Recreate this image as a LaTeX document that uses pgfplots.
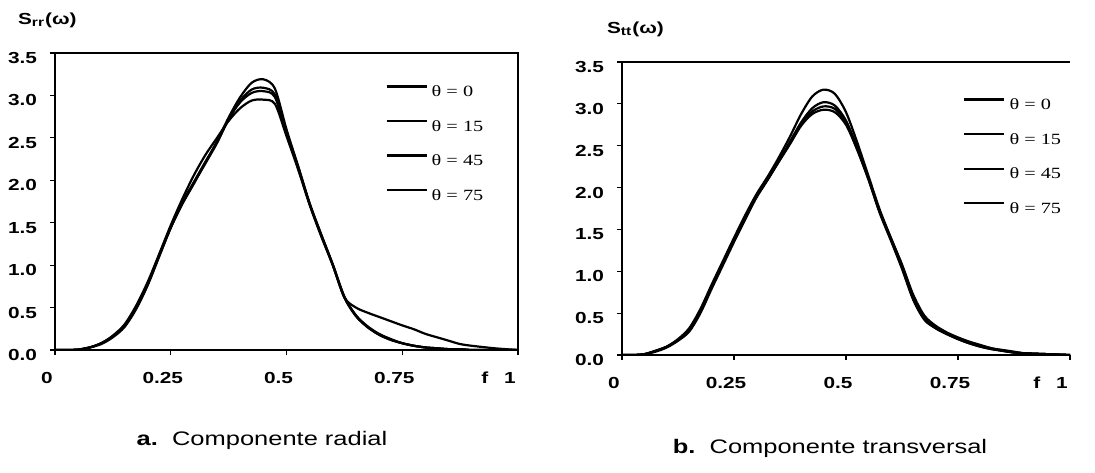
\documentclass[border=0pt]{standalone}
\usepackage{fontspec}
\setmainfont{Liberation Sans}
\newfontfamily\tickf[FakeStretch=1.3]{Liberation Sans}
\newfontfamily\legf[FakeStretch=1.3]{Liberation Serif}
\usepackage{pgfplots}
\pgfplotsset{compat=1.18}
\usepackage{pgfplotstable}

\pgfplotstableread{
f     t0    t15   t45   t75
0     0     0     0     0
0.025 0     0     0     0
0.05  0.005 0.005 0.005 0.005
0.075 0.03  0.03  0.03  0.03
0.1   0.08  0.08  0.07  0.08
0.125 0.17  0.16  0.15  0.16
0.15  0.30  0.29  0.27  0.28
0.175 0.52  0.50  0.48  0.49
0.2   0.80  0.78  0.76  0.77
0.225 1.13  1.12  1.10  1.11
0.25  1.47  1.45  1.44  1.44
0.275 1.78  1.74  1.73  1.72
0.3   2.06  1.98  1.97  1.96
0.325 2.30  2.22  2.20  2.21
0.35  2.50  2.45  2.44  2.46
0.375 2.70  2.72  2.72  2.74
0.4   2.85  2.92  2.94  2.98
0.425 2.94  3.03  3.07  3.15
0.45  2.95  3.05  3.09  3.19
0.475 2.90  2.98  3.01  3.08
0.5   2.52  2.55  2.57  2.60
0.525 2.13  2.15  2.16  2.17
0.55  1.71  1.72  1.72  1.73
0.575 1.34  1.35  1.36  1.36
0.6   1.00  1.00  1.01  1.00
0.625 0.62  0.62  0.63  0.62
0.65  0.50  0.40  0.41  0.40
0.675 0.44  0.27  0.28  0.27
0.7   0.39  0.18  0.19  0.18
0.725 0.34  0.12  0.13  0.12
0.75  0.29  0.08  0.08  0.08
0.775 0.245 0.05  0.05  0.05
0.8   0.19  0.03  0.03  0.03
0.825 0.15  0.02  0.02  0.02
0.85  0.11  0.01  0.01  0.01
0.875 0.07  0.01  0.01  0.01
0.9   0.05  0     0     0
0.95  0.02  0     0     0
1     0     0     0     0
}\radial

\pgfplotstableread{
f     t0    t15   t45   t75
0     0     0     0     0
0.025 0     0     0     0
0.05  0.01  0.01  0.01  0.01
0.075 0.05  0.05  0.04  0.05
0.1   0.10  0.10  0.09  0.10
0.125 0.19  0.18  0.17  0.18
0.15  0.32  0.30  0.28  0.29
0.175 0.55  0.53  0.50  0.52
0.2   0.84  0.82  0.79  0.81
0.225 1.12  1.10  1.07  1.09
0.25  1.40  1.38  1.35  1.37
0.275 1.67  1.65  1.62  1.64
0.3   1.92  1.90  1.88  1.89
0.325 2.13  2.10  2.09  2.10
0.35  2.36  2.32  2.31  2.31
0.375 2.61  2.55  2.53  2.52
0.4   2.88  2.78  2.76  2.74
0.425 3.09  2.95  2.91  2.88
0.45  3.17  3.02  2.97  2.93
0.475 3.12  2.98  2.94  2.90
0.5   2.90  2.80  2.78  2.75
0.525 2.54  2.48  2.46  2.45
0.55  2.14  2.12  2.10  2.10
0.575 1.74  1.72  1.71  1.70
0.6   1.40  1.40  1.38  1.37
0.625 1.07  1.08  1.04  1.03
0.65  0.70  0.72  0.67  0.66
0.675 0.45  0.47  0.43  0.42
0.7   0.34  0.35  0.32  0.32
0.725 0.26  0.27  0.25  0.25
0.75  0.20  0.21  0.19  0.19
0.775 0.15  0.16  0.14  0.14
0.8   0.11  0.12  0.10  0.10
0.825 0.08  0.08  0.07  0.07
0.85  0.05  0.06  0.05  0.05
0.875 0.03  0.04  0.03  0.03
0.9   0.02  0.02  0.02  0.02
0.95  0.01  0.01  0.01  0.01
1     0     0     0     0
}\transv

\pgfplotsset{
  panel/.style={
    scale only axis,
    xmin=0, xmax=1, ymin=0, ymax=3.5,
    xtick={0,0.25,0.5,0.75,1},
    xticklabels={0,0.25,0.5,0.75,{\llap{f\hspace{8pt}}1}},
    ytick={0,0.5,1,1.5,2,2.5,3,3.5},
    yticklabels={0.0,0.5,1.0,1.5,2.0,2.5,3.0,3.5},
    xtick pos=bottom, ytick pos=left,
    tick align=outside,
    major tick length=2.5pt,
    tick style={black, line width=0.6pt},
    axis line style={-, line width=0.9pt},
    ticklabel style={font=\tickf\bfseries\fontsize{8}{9}\selectfont},
    xticklabel style={xshift=-4pt, yshift=-5pt},
    yticklabel style={xshift=-3pt, yshift=-2.5pt},
    cycle list={{black},{black},{black},{black}},
    every axis plot/.append style={line width=1.1pt, smooth, no markers},
    legend style={draw=none, fill=none, inner sep=0pt, row sep=6.3pt,
      font=\legf\fontsize{7.8}{8.5}\selectfont, cells={anchor=west}},
    legend image code/.code={\draw[#1] (0pt,3pt) -- (20pt,3pt);},
  }
}

\begin{document}
\begin{tikzpicture}
\useasboundingbox (0,0) rectangle (547.5pt,236pt);

% Left panel
\begin{axis}[panel,
  at={(27.5pt,61pt)}, anchor=south west,
  width=231.5pt, height=148.5pt,
  legend style={at={(0.713,0.905)}, anchor=north west}]
\addplot table[x=f, y=t0]  {\radial};
\addlegendentry{θ = 0}
\addplot table[x=f, y=t15] {\radial};
\addlegendentry{θ = 15}
\addplot table[x=f, y=t45] {\radial};
\addlegendentry{θ = 45}
\addplot table[x=f, y=t75] {\radial};
\addlegendentry{θ = 75}
\end{axis}

% Right panel
\begin{axis}[panel,
  at={(311pt,58.5pt)}, anchor=south west,
  width=224pt, height=146.5pt,
  axis y line*=left, axis x line*=box,
  legend style={at={(0.761,0.89)}, anchor=north west}]
\addplot table[x=f, y=t0]  {\transv};
\addlegendentry{θ = 0}
\addplot table[x=f, y=t15] {\transv};
\addlegendentry{θ = 15}
\addplot table[x=f, y=t45] {\transv};
\addlegendentry{θ = 45}
\addplot table[x=f, y=t75] {\transv};
\addlegendentry{θ = 75}
\end{axis}

% Titles
\node[anchor=west, font=\tickf\bfseries\fontsize{8}{9}\selectfont] at (5.5pt,226pt) {S\textsubscript{rr}(ω)};
\node[anchor=west, font=\tickf\bfseries\fontsize{8}{9}\selectfont] at (300pt,221.5pt) {S\textsubscript{tt}(ω)};

% Captions
\node[font=\tickf\fontsize{9.8}{11}\selectfont] at (131pt,16pt) {\textbf{a.}\ \ Componente radial};
\node[font=\tickf\fontsize{9.8}{11}\selectfont] at (415pt,12pt) {\textbf{b.}\ \ Componente transversal};
\end{tikzpicture}
\end{document}
